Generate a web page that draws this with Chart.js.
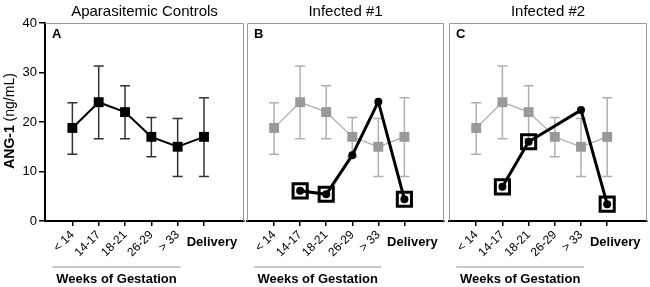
<!DOCTYPE html>
<html>
<head>
<meta charset="utf-8">
<script src="https://cdn.jsdelivr.net/npm/chart.js@4.4.1/dist/chart.umd.min.js"></script>
<style>
  html, body { margin: 0; padding: 0; background: #fff; }
  #wrap { position: relative; width: 650px; height: 287px; }
  .panel { position: absolute; top: 0; height: 287px; }
</style>
</head>
<body>
<div id="wrap">
  <div class="panel" style="left:0;width:246px"><canvas id="chartA"></canvas></div>
  <div class="panel" style="left:246px;width:200px"><canvas id="chartB"></canvas></div>
  <div class="panel" style="left:446px;width:204px"><canvas id="chartC"></canvas></div>
</div>
<script>
// ---------------- Data ----------------
const weeks = ["< 14", "14-17", "18-21", "26-29", "> 33", "Delivery"];
const yTicks = [0, 10, 20, 30, 40];

// aparasitemic controls: mean and error bar ends
const ctrlMean = [18.8, 24.0, 22.0, 17.0, 15.0, 17.0];
const ctrlHigh = [23.9, 31.3, 27.3, 20.9, 20.7, 24.9];
const ctrlLow  = [13.5, 16.6, 16.6, 13.0, 9.0, 9.0];

// infected women
const inf1 = [null, 6.1, 5.4, 13.3, 24.1, 4.4];
const inf1Boxed = [false, true, true, false, false, true];
const inf2 = [null, 6.9, 16.0, null, 22.4, 3.4];
const inf2Boxed = [false, true, true, false, false, true];

const FONT = '"Liberation Sans", Arial, sans-serif';
Chart.defaults.font.family = FONT;
Chart.defaults.color = "#000";

const toPts = vals => vals.map((v, i) => ({ x: i, y: v }));
const boxedPts = (vals, flags) => vals.map((v, i) => ({ x: i, y: flags[i] ? v : null }));

// ---------------- Plugins ----------------
const errorBars = {
  id: "errorBars",
  beforeDatasetsDraw(chart, args, o) {
    const { ctx, scales: { x, y } } = chart;
    ctx.save();
    ctx.strokeStyle = o.color;
    ctx.lineWidth = 1.5;
    ctrlHigh.forEach((hi, i) => {
      const px = x.getPixelForValue(i);
      const top = y.getPixelForValue(hi);
      const bot = y.getPixelForValue(ctrlLow[i]);
      ctx.beginPath();
      ctx.moveTo(px, top); ctx.lineTo(px, bot);
      ctx.moveTo(px - 5, top); ctx.lineTo(px + 5, top);
      ctx.moveTo(px - 5, bot); ctx.lineTo(px + 5, bot);
      ctx.stroke();
    });
    ctx.restore();
  }
};

const panelDecor = {
  id: "panelDecor",
  afterDraw(chart, args, o) {
    const { ctx, chartArea: a, scales: { x } } = chart;
    ctx.save();

    // gray frame (top, right, and left for B/C)
    ctx.strokeStyle = "#999";
    ctx.lineWidth = 1;
    ctx.beginPath();
    if (!o.yAxis) { ctx.moveTo(a.left + 0.5, a.bottom); ctx.lineTo(a.left + 0.5, a.top + 0.5); }
    else ctx.moveTo(a.left, a.top + 0.5);
    ctx.lineTo(a.right - 0.5, a.top + 0.5);
    ctx.lineTo(a.right - 0.5, a.bottom);
    ctx.stroke();

    ctx.fillStyle = "#000";
    // panel title
    ctx.font = "15px " + FONT;
    ctx.textAlign = "center";
    ctx.textBaseline = "alphabetic";
    ctx.fillText(o.title, (a.left + a.right) / 2, 16);

    // panel letter
    ctx.font = "bold 13px " + FONT;
    ctx.textAlign = "left";
    ctx.textBaseline = "top";
    ctx.fillText(o.letter, a.left + 7, 28);

    // rotated week labels
    ctx.font = "12px " + FONT;
    for (let i = 0; i < 5; i++) {
      const px = x.getPixelForValue(i);
      ctx.save();
      ctx.translate(px, 233);
      ctx.rotate(-Math.PI / 4);
      ctx.textAlign = "right";
      ctx.textBaseline = "middle";
      ctx.fillText(weeks[i], 0, 0);
      ctx.restore();
    }
    ctx.font = "bold 13px " + FONT;
    ctx.textAlign = "center";
    ctx.textBaseline = "middle";
    ctx.fillText(weeks[5], x.getPixelForValue(5) + 8, 242);

    // bracket line + group label
    const l = x.getPixelForValue(0) - 20, r = x.getPixelForValue(4) + 3;
    ctx.strokeStyle = "#c8c8c8";
    ctx.lineWidth = 2;
    ctx.beginPath();
    ctx.moveTo(l, 267); ctx.lineTo(r, 267);
    ctx.stroke();
    ctx.fillText("Weeks of Gestation", (l + r) / 2, 279);

    // y title with mixed weight
    if (o.yAxis) {
      ctx.save();
      ctx.translate(10, 121);
      ctx.rotate(-Math.PI / 2);
      ctx.textAlign = "left";
      ctx.font = "bold 14px " + FONT;
      const wb = ctx.measureText("ANG-1").width;
      ctx.font = "14px " + FONT;
      const wr = ctx.measureText(" (ng/mL)").width;
      const start = -(wb + wr) / 2;
      ctx.font = "bold 14px " + FONT;
      ctx.fillText("ANG-1", start, 0);
      ctx.font = "14px " + FONT;
      ctx.fillText(" (ng/mL)", start + wb, 0);
      ctx.restore();
    }
    ctx.restore();
  }
};

// ---------------- Panels ----------------
function makePanel(id, cfg) {
  const datasets = [];
  if (cfg.inf) {
    datasets.push({
      data: boxedPts(cfg.inf, cfg.boxed),
      showLine: false,
      pointStyle: "rect",
      pointRadius: 10,
      pointBackgroundColor: "rgba(0,0,0,0)",
      pointBorderColor: "#000",
      pointBorderWidth: 3
    });
    datasets.push({
      data: toPts(cfg.inf),
      borderColor: "#000",
      borderWidth: 3,
      spanGaps: true,
      pointStyle: "circle",
      pointRadius: 4,
      pointBackgroundColor: "#000",
      pointBorderWidth: 0
    });
  }
  datasets.push({
    data: toPts(ctrlMean),
    borderColor: cfg.inf ? "#aaa" : "#000",
    borderWidth: cfg.inf ? 1.2 : 2,
    pointStyle: "rect",
    pointRadius: 7,
    pointBackgroundColor: cfg.inf ? "#999" : "#000",
    pointBorderWidth: 0
  });

  return new Chart(document.getElementById(id), {
    type: "line",
    data: { datasets },
    options: {
      responsive: true,
      maintainAspectRatio: false,
      animation: false,
      events: [],
      clip: false,
      layout: { autoPadding: false, padding: cfg.padding },
      elements: { line: { tension: 0 } },
      plugins: {
        legend: { display: false },
        tooltip: { enabled: false },
        errorBars: { color: cfg.inf ? "#b0b0b0" : "#333" },
        panelDecor: { title: cfg.title, letter: cfg.letter, yAxis: !!cfg.yAxis }
      },
      scales: {
        x: {
          type: "linear",
          min: -1.04,
          max: 6.52,
          afterBuildTicks: s => { s.ticks = weeks.map((_, i) => ({ value: i })); },
          afterFit: s => { s.height = 66; },
          ticks: { display: false },
          grid: { drawOnChartArea: false, drawTicks: true, tickLength: 5, color: "#000", lineWidth: 1.5 },
          border: { color: "#000", width: 2 }
        },
        y: {
          display: !!cfg.yAxis,
          min: 0,
          max: 40,
          afterBuildTicks: s => { s.ticks = yTicks.map(v => ({ value: v })); },
          afterFit: s => { s.width = cfg.yAxis ? 45 : 0; },
          ticks: { font: { size: 13 }, color: "#000", padding: 2 },
          grid: { drawOnChartArea: false, tickLength: 6, color: "#000", lineWidth: 1.5 },
          border: { color: "#000", width: 2 }
        }
      }
    },
    plugins: [errorBars, panelDecor]
  });
}

makePanel("chartA", { title: "Aparasitemic Controls", letter: "A", yAxis: true,
  padding: { left: 0, right: 2, top: 23, bottom: 0 } });
makePanel("chartB", { title: "Infected #1", letter: "B", inf: inf1, boxed: inf1Boxed,
  padding: { left: 1, right: 2, top: 23, bottom: 0 } });
makePanel("chartC", { title: "Infected #2", letter: "C", inf: inf2, boxed: inf2Boxed,
  padding: { left: 3, right: 3, top: 23, bottom: 0 } });
</script>
</body>
</html>
